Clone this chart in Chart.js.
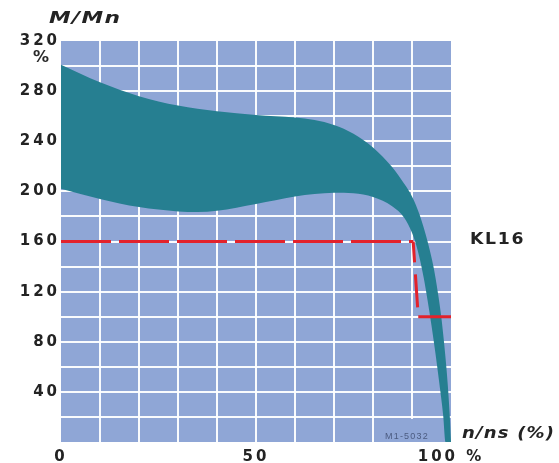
<!DOCTYPE html>
<html>
<head>
<meta charset="utf-8">
<script src="https://cdn.jsdelivr.net/npm/chart.js@4.4.1/dist/chart.umd.min.js"></script>
<style>
  html, body { margin: 0; padding: 0; background: #ffffff; }
  #wrap { width: 559px; height: 463px; position: relative; }
</style>
</head>
<body>
<div id="wrap"><canvas id="c"></canvas></div>
<script>
// Torque envelope of the motor: upper and lower limits of M/Mn (%) against speed n/ns (%)
const upperSpeed  = [0, 10, 20, 30, 40, 50, 60, 65, 70, 75, 80, 85, 88, 90, 92, 94, 95.5, 96.6, 97.5, 98.2, 98.8, 99.3, 99.7, 100];
const upperTorque = [301, 287, 276, 268.5, 264, 261, 259, 257, 253, 246, 235, 219, 206, 196, 181, 160, 140, 120, 100, 80, 60, 40, 20, 0];
const lowerSpeed  = [0, 10, 20, 30, 35, 40, 50, 60, 65, 70, 75, 80, 85, 88, 90, 91, 92, 93, 94, 95, 96, 97, 98, 98.6, 100];
const lowerTorque = [202, 194, 187.5, 184, 183.5, 184.5, 190, 196, 198, 199, 198.5, 195.5, 188, 179, 167, 158, 146, 131, 113, 93, 71, 47, 21, 0, 0];

// KL16 load characteristic (dashed)
const kl16Speed  = [0, 90.3, 91.6, 100];
const kl16Torque = [160, 160, 100, 100];

// Labelled tick positions
const xLabelValues = [0, 50, 100];
const xLabelTexts  = ['0', '50', '100 %'];
const yLabelValues = [40, 80, 120, 160, 200, 240, 280, 320];

const toPoints = (xs, ys) => xs.map((x, i) => ({ x: x, y: ys[i] }));

const PLOT_BG = '#8fa6d6';
const BAND = '#267f91';
const RED = '#e3222b';
const INK = '#232323';

// dash pattern of each piece of the KL16 line
const kl16Dashes = [[50, 8], [21, 12, 33, 40], []];

function drawText(ctx, text, x, y, opts) {
  ctx.save();
  ctx.font = opts.font;
  ctx.fillStyle = opts.color || INK;
  ctx.textAlign = opts.align || 'left';
  ctx.textBaseline = opts.baseline || 'alphabetic';
  ctx.letterSpacing = (opts.spacing || 0) + 'px';
  ctx.translate(x, y);
  ctx.scale(opts.scaleX || 1, 1);
  ctx.fillText(text, 0, 0);
  ctx.restore();
}

const decorations = {
  id: 'decorations',
  beforeDraw(chart) {
    const { ctx, chartArea: a } = chart;
    ctx.save();
    ctx.fillStyle = PLOT_BG;
    ctx.fillRect(a.left, a.top, a.right - a.left, a.bottom - a.top);
    ctx.restore();
    // wide tracking for the axis numbers
    ctx.letterSpacing = '3px';
  },
  beforeDatasetsDraw(chart) {
    const { ctx } = chart;
    ctx.letterSpacing = '0px';
    const x = chart.scales.x, y = chart.scales.y;
    // drawing reference tag box
    const bx = x.getPixelForValue(80) + 5;
    const by = y.getPixelForValue(20) + 2;
    ctx.save();
    ctx.fillStyle = PLOT_BG;
    ctx.fillRect(bx, by, x.getPixelForValue(98) - bx, y.getPixelForValue(0) - by);
    ctx.restore();
    drawText(ctx, 'M1-5032', bx + 7, y.getPixelForValue(0) - 3,
      { font: '9px "Liberation Sans"', color: '#4b5b80', spacing: 1.2 });
  },
  afterDraw(chart) {
    const { ctx } = chart;
    const y = chart.scales.y;
    ctx.letterSpacing = '0px';
    drawText(ctx, 'M/Mn', 49, 23,
      { font: 'italic bold 15px "DejaVu Sans"', scaleX: 1.45, spacing: 1 });
    drawText(ctx, '%', 41, y.getPixelForValue(320) + 17,
      { font: 'bold 16px "DejaVu Sans"', align: 'center', baseline: 'middle', color: '#2a2a2a' });
    drawText(ctx, 'KL16', 470, y.getPixelForValue(160) - 1,
      { font: 'bold 15px "DejaVu Sans"', baseline: 'middle', scaleX: 1.15, spacing: 1.5 });
    drawText(ctx, 'n/ns (%)', 462, 438,
      { font: 'italic bold 15px "DejaVu Sans"', scaleX: 1.2, spacing: 1 });
  }
};

const edgeFree = (maxVal) => (c) =>
  (c.tick && (c.tick.value === 0 || c.tick.value === maxVal)) ? 'rgba(0,0,0,0)' : 'rgba(255,255,255,0.95)';

new Chart(document.getElementById('c'), {
  type: 'line',
  data: {
    datasets: [
      {
        label: 'KL16',
        data: toPoints(kl16Speed, kl16Torque),
        borderColor: RED,
        borderWidth: 3,
        pointRadius: 0,
        tension: 0,
        fill: false,
        segment: { borderDash: (c) => kl16Dashes[c.p0DataIndex] }
      },
      {
        label: 'upper',
        data: toPoints(upperSpeed, upperTorque),
        borderWidth: 0,
        borderColor: BAND,
        backgroundColor: BAND,
        pointRadius: 0,
        cubicInterpolationMode: 'monotone',
        fill: '+1'
      },
      {
        label: 'lower',
        data: toPoints(lowerSpeed, lowerTorque),
        borderWidth: 0,
        borderColor: BAND,
        backgroundColor: BAND,
        pointRadius: 0,
        cubicInterpolationMode: 'monotone',
        fill: false
      }
    ]
  },
  options: {
    responsive: true,
    maintainAspectRatio: false,
    animation: false,
    layout: { padding: { top: 41, right: 108, left: 0, bottom: 0 } },
    plugins: { legend: { display: false }, tooltip: { enabled: false } },
    scales: {
      x: {
        type: 'linear',
        min: 0, max: 100,
        border: { display: false },
        grid: { color: edgeFree(100), lineWidth: 2, drawTicks: false },
        afterFit: (s) => { s.height = 21; },
        ticks: {
          stepSize: 10,
          autoSkip: false,
          maxRotation: 0,
          padding: 6,
          color: INK,
          font: { family: 'DejaVu Sans', size: 15, weight: 'bold' },
          callback: (v) => {
            const i = xLabelValues.indexOf(v);
            return i >= 0 ? xLabelTexts[i] : '';
          }
        }
      },
      y: {
        type: 'linear',
        min: 0, max: 320,
        border: { display: false },
        grid: { color: edgeFree(320), lineWidth: 2, drawTicks: false },
        afterFit: (s) => { s.width = 61; },
        ticks: {
          stepSize: 20,
          autoSkip: false,
          padding: 1,
          color: INK,
          font: { family: 'DejaVu Sans', size: 15, weight: 'bold' },
          callback: (v) => yLabelValues.includes(v) ? String(v) : ''
        }
      }
    }
  },
  plugins: [decorations]
});
</script>
</body>
</html>
